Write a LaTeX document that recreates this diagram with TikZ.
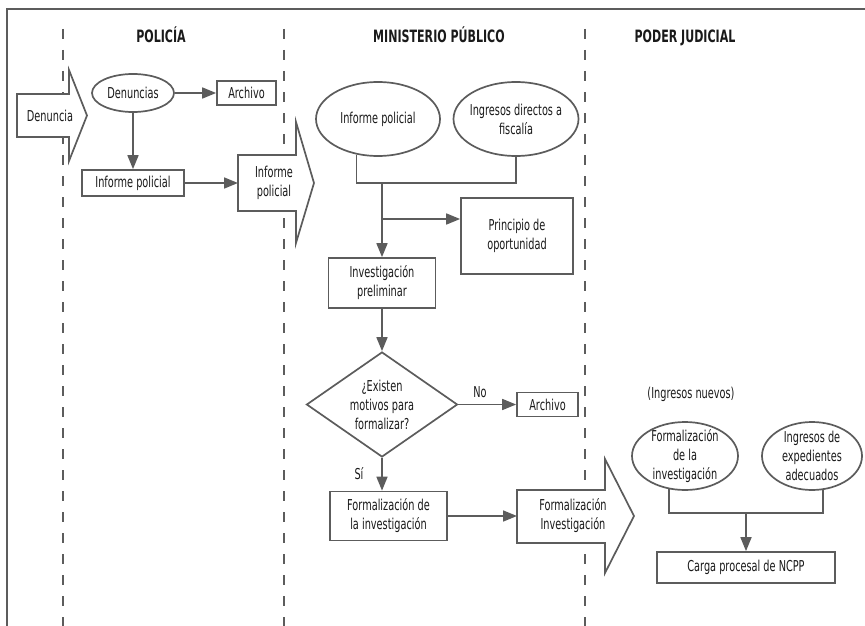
\documentclass[tikz,border=0pt]{standalone}
\usepackage{fontspec}
\setmainfont[FakeStretch=0.65]{DejaVu Sans}
\usetikzlibrary{shapes.geometric,arrows.meta}
\definecolor{ink}{HTML}{1A1A1A}
\definecolor{rule}{HTML}{5C5C5C}
\begin{document}
\begin{tikzpicture}[x=1pt,y=-1pt,
  line/.style={draw=rule, line width=1.7pt},
  flow/.style={line, -{Triangle[length=14pt,width=11pt]}},
  lane/.style={draw=rule, line width=1.8pt, dash pattern=on 10pt off 11pt},
  txt/.style={text=ink, font=\fontsize{15}{19}\selectfont, align=center, inner sep=0pt},
  head/.style={text=ink, font=\fontsize{17}{20}\selectfont\bfseries, inner sep=0pt, anchor=base},
  stepbox/.style={txt, line, rectangle, fill=white},
  oval/.style={line, ellipse, inner sep=0pt, fill=white},
  bigarrow/.style={line, line join=miter, fill=white},
]
\useasboundingbox (0,0) rectangle (865,626);

% frame and swim lanes
\draw[line, line width=2pt] (865,9) -- (7,9) -- (7,626);
\draw[lane] (63,29) -- (63,626);
\draw[lane] (284,29) -- (284,626);
\draw[lane] (585,29) -- (585,626);

\node[head] (hpol) at (161,42.5) {POLICÍA};
\node[head] (hmin) at (439,42.5) {MINISTERIO PÚBLICO};
\node[head] (hpod) at (685,42.5) {PODER JUDICIAL};

% Policía
\draw[bigarrow] (17,94) -- (69,94) -- (69,70) -- (87,115.5) -- (69,161) -- (69,137) -- (17,137) -- cycle;
\node[txt] (tden) at (50,116) {Denuncia};

\node[oval, minimum width=82, minimum height=38] (den) at (133,93) {};
\node[txt] (tdens) at (den) {Denuncias};
\node[stepbox, minimum width=59, minimum height=24] (ar1) at (246.5,93) {Archivo};
\node[stepbox, minimum width=102, minimum height=26] (ip1) at (133,183) {Informe policial};

\draw[bigarrow] (238,155) -- (296,155) -- (296,122) -- (314,183) -- (296,243) -- (296,211) -- (238,211) -- cycle;
\coordinate (ipTail) at (238,183);
\node[txt] (tipa) at (274,183) {Informe\\policial};

\draw[flow] (den.east) -- (ar1.west);
\draw[flow] (den.south) -- (ip1.north);
\draw[flow] (ip1.east) -- (ipTail);

% Ministerio Público
\node[oval, minimum width=124, minimum height=74] (m1) at (378,119) {};
\node[txt] (tm1) at (m1) {Informe policial};
\node[oval, minimum width=125, minimum height=74] (m2) at (516,119) {};
\node[txt] (tm2) at (m2) {Ingresos directos a\\fiscalía};

\node[stepbox, minimum width=112, minimum height=76] (pr) at (517,236) {Principio de\\oportunidad};
\node[stepbox, minimum width=107, minimum height=50] (ip2) at (382,283) {Investigación\\preliminar};

\coordinate (mjoin) at (382,183);
\coordinate (branch) at (382,219);
\draw[line] (m1.-121) |- (m2.south |- mjoin) -- (m2.south);
\draw[flow] (mjoin) -- (mjoin |- ip2.north);
\draw[flow] (branch) -- (branch -| pr.west);

\node[line, diamond, aspect=1.44, minimum width=151, minimum height=105, inner sep=0pt] (q) at (382,404.5) {};
\node[txt] (tq) at (q) {¿Existen\\motivos para\\formalizar?};
\node[stepbox, minimum width=61, minimum height=24] (ar2) at (547.5,404.5) {Archivo};
\node[stepbox, minimum width=117, minimum height=49] (fz) at (388.5,516) {Formalización de\\la investigación};

\draw[flow] (ip2.south) -- (q.north);
\draw[flow] (q.east) -- (q.east -| ar2.west);
\node[txt] (tno) at (480,392) {No};
\draw[flow] (q.south) -- (q.south |- fz.north);
\node[txt] (tsi) at (359,474) {Sí};

\draw[bigarrow] (517,490) -- (605,490) -- (605,459) -- (634,516) -- (605,573) -- (605,543) -- (517,543) -- cycle;
\coordinate (fiTail) at (517,516);
\node[txt] (tfi) at (573,516) {Formalización\\Investigación};
\draw[flow] (fz.east) -- (fiTail);

% Poder Judicial
\node[txt] (tnuevos) at (691,394) {(Ingresos nuevos)};
\node[oval, minimum width=106, minimum height=68] (e1) at (685,456) {};
\node[txt] (te1) at (e1) {Formalización\\de la\\investigación};
\node[oval, minimum width=100, minimum height=68] (e2) at (812,456) {};
\node[txt] (te2) at (e2) {Ingresos de\\expedientes\\adecuados};
\node[stepbox, minimum width=178, minimum height=31] (cp) at (746,567.5) {Carga procesal de NCPP};

\coordinate (rjoin) at (746,513);
\draw[line] (e1.-116) |- (e2.-72 |- rjoin) -- (e2.-72);
\draw[flow] (rjoin) -- (rjoin |- cp.north);
\end{tikzpicture}
\end{document}
